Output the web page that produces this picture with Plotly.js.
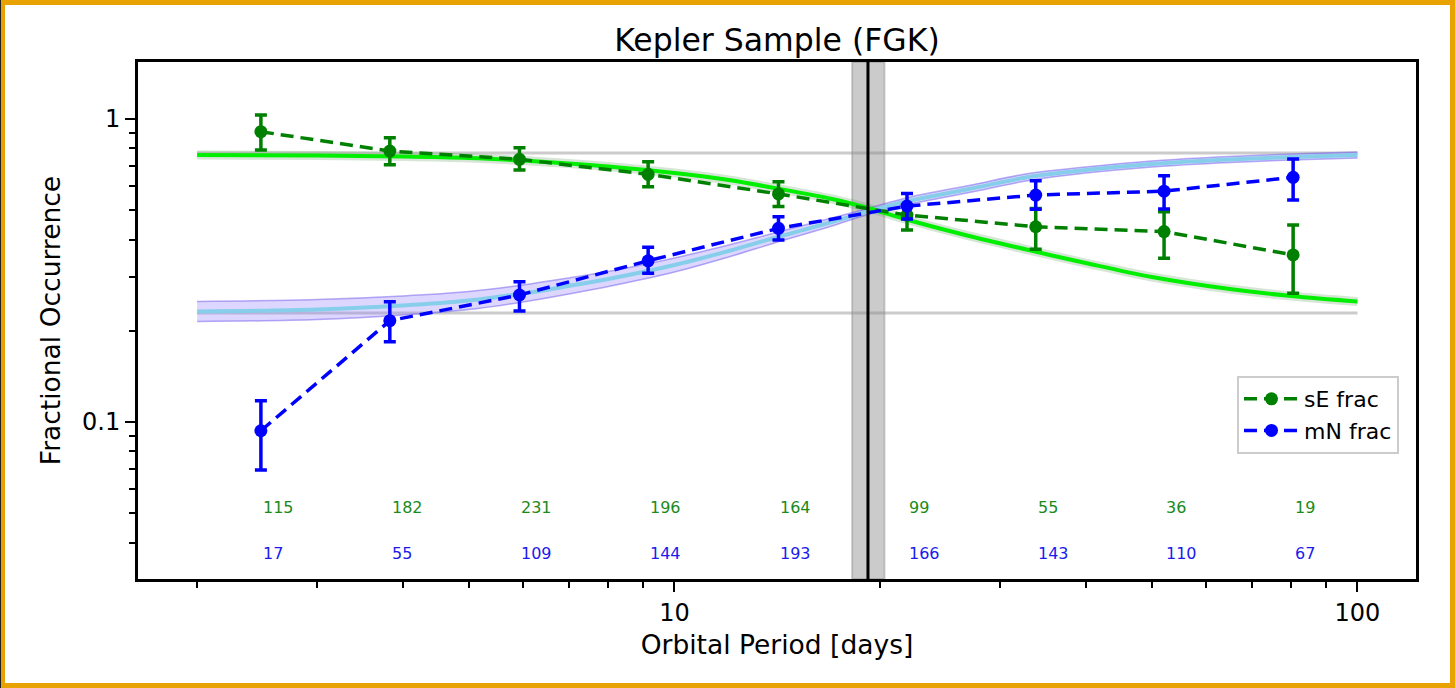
<!DOCTYPE html>
<html>
<head>
<meta charset="utf-8">
<script src="https://cdn.plot.ly/plotly-3.0.1.min.js"></script>
<style>
  html, body { margin: 0; padding: 0; background: #ffffff; }
  #wrap { position: relative; width: 1455px; height: 688px; overflow: hidden; }
  #chart { position: absolute; left: 0; top: 0; width: 1455px; height: 688px; }
  #frame { position: absolute; left: 0; top: 0; width: 1455px; height: 688px; box-sizing: border-box;
           border: 5px solid #E8A202; pointer-events: none; }
  #frameLeft { position: absolute; left: 0; top: 0; width: 1px; height: 688px; background: #222; pointer-events: none; }
</style>
</head>
<body>
<div id="wrap">
  <div id="chart"></div>
  <div id="frame"></div>
  <div id="frameLeft"></div>
</div>
<script>
// ---- Binned measurements ----
const periods  = [2.48, 3.83, 5.93, 9.15, 14.2, 21.9, 33.8, 52.1, 80.5];
const sEFrac   = [0.908, 0.784, 0.736, 0.657, 0.566, 0.482, 0.441, 0.425, 0.356];
const sEUpper  = [1.031, 0.868, 0.804, 0.723, 0.621, 0.520, 0.507, 0.494, 0.447];
const sELower  = [0.790, 0.707, 0.679, 0.598, 0.514, 0.430, 0.372, 0.347, 0.266];
const mNFrac   = [0.0936, 0.216, 0.2625, 0.3405, 0.4356, 0.516, 0.561, 0.578, 0.642];
const mNUpper  = [0.1176, 0.2495, 0.2904, 0.3772, 0.476, 0.568, 0.6256, 0.650, 0.738];
const mNLower  = [0.0694, 0.184, 0.2324, 0.3096, 0.3988, 0.4677, 0.5035, 0.5047, 0.540];
const sECounts = [115, 182, 231, 196, 164, 99, 55, 36, 19];
const mNCounts = [17, 55, 109, 144, 193, 166, 143, 110, 67];
const sECountLevel = 0.0524;
const mNCountLevel = 0.0367;

// ---- Model curves ----
const modelP      = [2, 3, 4, 5, 6, 7, 8, 10, 12, 14, 17, 19.2, 22, 27, 33, 40, 50, 65, 80, 100];
const sEModel     = [0.7606, 0.7577, 0.7519, 0.7435, 0.7295, 0.7134, 0.6973, 0.6636, 0.629, 0.592, 0.5445, 0.5084, 0.4641, 0.4111, 0.3695, 0.3347, 0.301, 0.2747, 0.2604, 0.2498];
const mNModel     = [0.2316, 0.2351, 0.2424, 0.2518, 0.2655, 0.2811, 0.2964, 0.3297, 0.3667, 0.4048, 0.4571, 0.4953, 0.5363, 0.5875, 0.6434, 0.6788, 0.7103, 0.735, 0.7491, 0.7606];
const mNBandUpper = [0.2499, 0.2536, 0.2606, 0.2696, 0.2832, 0.2987, 0.3138, 0.3477, 0.3838, 0.4205, 0.4712, 0.5067, 0.5508, 0.6034, 0.6608, 0.6945, 0.7267, 0.752, 0.7664, 0.7782];
const mNBandLower = [0.2147, 0.2179, 0.2255, 0.2352, 0.2489, 0.2645, 0.28, 0.3126, 0.3504, 0.3897, 0.4434, 0.4841, 0.5222, 0.5721, 0.6265, 0.6635, 0.6943, 0.7184, 0.7322, 0.7434];

// ---- Reference levels ----
const plateauX = [2, 100];
const plateauHigh = 0.772;
const plateauLow = 0.229;
const transitionPeriod = 19.2;
const transitionLow = 18.2;
const transitionHigh = 20.3;

// ---- Ticks ----
const xMajor = [10, 100];
const xMajorText = ['10', '100'];
const xMinor = [2, 3, 4, 5, 6, 7, 8, 9, 20, 30, 40, 50, 60, 70, 80, 90];
const yMajor = [0.1, 1];
const yMajorText = ['0.1', '1'];
const yMinor = [0.03, 0.04, 0.05, 0.06, 0.07, 0.08, 0.09, 0.2, 0.3, 0.4, 0.5, 0.6, 0.7, 0.8, 0.9];

const FONT = 'DejaVu Sans, Arial, sans-serif';
const GREEN = '#008000';
const BLUE = '#0000ff';

const plus = (u, c) => u.map((v, i) => v - c[i]);
const minus = (l, c) => c.map((v, i) => v - l[i]);

const traces = [
  // plateau reference lines
  { x: plateauX, y: plateauX.map(() => plateauHigh), mode: 'lines', showlegend: false, hoverinfo: 'skip',
    line: { color: 'rgba(140,140,140,0.45)', width: 3 } },
  { x: plateauX, y: plateauX.map(() => plateauLow), mode: 'lines', showlegend: false, hoverinfo: 'skip',
    line: { color: 'rgba(140,140,140,0.45)', width: 3 } },
  // mN band
  { x: modelP, y: mNBandLower, mode: 'lines', line: { color: 'rgba(110,90,235,0.5)', width: 1.5, shape: 'spline' },
    showlegend: false, hoverinfo: 'skip' },
  { x: modelP, y: mNBandUpper, mode: 'lines', fill: 'tonexty', fillcolor: 'rgba(150,130,255,0.32)',
    line: { color: 'rgba(110,90,235,0.5)', width: 1.5, shape: 'spline' }, showlegend: false, hoverinfo: 'skip' },
  // sE halo
  { x: modelP, y: sEModel, mode: 'lines', line: { color: 'rgba(90,150,90,0.25)', width: 9, shape: 'spline' },
    showlegend: false, hoverinfo: 'skip' },
  // model lines
  { x: modelP, y: mNModel, mode: 'lines', line: { color: '#87ceeb', width: 4, shape: 'spline' },
    showlegend: false, hoverinfo: 'skip' },
  { x: modelP, y: sEModel, mode: 'lines', line: { color: '#00ee00', width: 4, shape: 'spline' },
    showlegend: false, hoverinfo: 'skip' },
  // data
  { x: periods, y: sEFrac, name: 'sE frac', mode: 'lines+markers',
    line: { color: GREEN, width: 3.5, dash: '13px,7px' },
    marker: { color: GREEN, size: 13 },
    error_y: { type: 'data', symmetric: false, array: plus(sEUpper, sEFrac), arrayminus: minus(sELower, sEFrac),
               color: GREEN, thickness: 3.5, width: 6 } },
  { x: periods, y: mNFrac, name: 'mN frac', mode: 'lines+markers',
    line: { color: BLUE, width: 3.5, dash: '13px,7px' },
    marker: { color: BLUE, size: 13 },
    error_y: { type: 'data', symmetric: false, array: plus(mNUpper, mNFrac), arrayminus: minus(mNLower, mNFrac),
               color: BLUE, thickness: 3.5, width: 6 } }
];

const annotations = [];
periods.forEach((p, i) => {
  annotations.push({ x: Math.log10(p), y: Math.log10(sECountLevel), xref: 'x', yref: 'y', text: String(sECounts[i]),
    showarrow: false, xanchor: 'left', yanchor: 'middle', font: { family: FONT, size: 16, color: '#1a8a1a' } });
  annotations.push({ x: Math.log10(p), y: Math.log10(mNCountLevel), xref: 'x', yref: 'y', text: String(mNCounts[i]),
    showarrow: false, xanchor: 'left', yanchor: 'middle', font: { family: FONT, size: 16, color: '#1a1aee' } });
});

const layout = {
  width: 1455, height: 688,
  margin: { l: 138, r: 39, t: 62, b: 109 },
  paper_bgcolor: '#ffffff', plot_bgcolor: '#ffffff',
  font: { family: FONT, color: '#000' },
  title: { text: 'Kepler Sample (FGK)', font: { family: FONT, size: 31.5, color: '#000' },
           x: 0.534, xanchor: 'center', y: 0.942, yanchor: 'middle', yref: 'container' },
  xaxis: {
    type: 'log', range: [0.2145, 2.0857],
    tickmode: 'array', tickvals: xMajor, ticktext: xMajorText,
    ticks: 'outside', ticklen: 10, tickwidth: 2, tickcolor: '#000',
    tickfont: { family: FONT, size: 24, color: '#000' },
    minor: { tickmode: 'array', tickvals: xMinor, ticks: 'outside', ticklen: 6, tickwidth: 2, tickcolor: '#000', showgrid: false },
    showgrid: false, zeroline: false,
    showline: true, linecolor: '#000', linewidth: 3, mirror: true,
    title: { text: 'Orbital Period [days]', font: { family: FONT, size: 26.5, color: '#000' }, standoff: 10 }
  },
  yaxis: {
    type: 'log', range: [-1.518, 0.1881],
    tickmode: 'array', tickvals: yMajor, ticktext: yMajorText,
    ticks: 'outside', ticklen: 10, tickwidth: 2, tickcolor: '#000',
    tickfont: { family: FONT, size: 24, color: '#000' },
    minor: { tickmode: 'array', tickvals: yMinor, ticks: 'outside', ticklen: 6, tickwidth: 2, tickcolor: '#000', showgrid: false },
    showgrid: false, zeroline: false,
    showline: true, linecolor: '#000', linewidth: 3, mirror: true,
    title: { text: 'Fractional Occurrence', font: { family: FONT, size: 26.5, color: '#000' }, standoff: 14 }
  },
  legend: {
    x: 0.9867, y: 0.3926, xanchor: 'right', yanchor: 'top', traceorder: 'normal', itemwidth: 55,
    bgcolor: 'rgba(255,255,255,0.9)', bordercolor: '#cccccc', borderwidth: 2,
    font: { family: FONT, size: 22, color: '#000' }
  },
  shapes: [
    { type: 'rect', xref: 'x', yref: 'paper', x0: transitionLow, x1: transitionHigh, y0: 0, y1: 1,
      fillcolor: 'rgba(140,140,140,0.45)', line: { color: 'rgba(120,120,120,0.35)', width: 2 }, layer: 'below' },
    { type: 'line', xref: 'x', yref: 'paper', x0: transitionPeriod, x1: transitionPeriod, y0: 0, y1: 1,
      line: { color: '#000', width: 3 }, layer: 'above' }
  ],
  annotations: annotations,
  showlegend: true
};

Plotly.newPlot('chart', traces, layout, { displayModeBar: false, staticPlot: true });
</script>
</body>
</html>
